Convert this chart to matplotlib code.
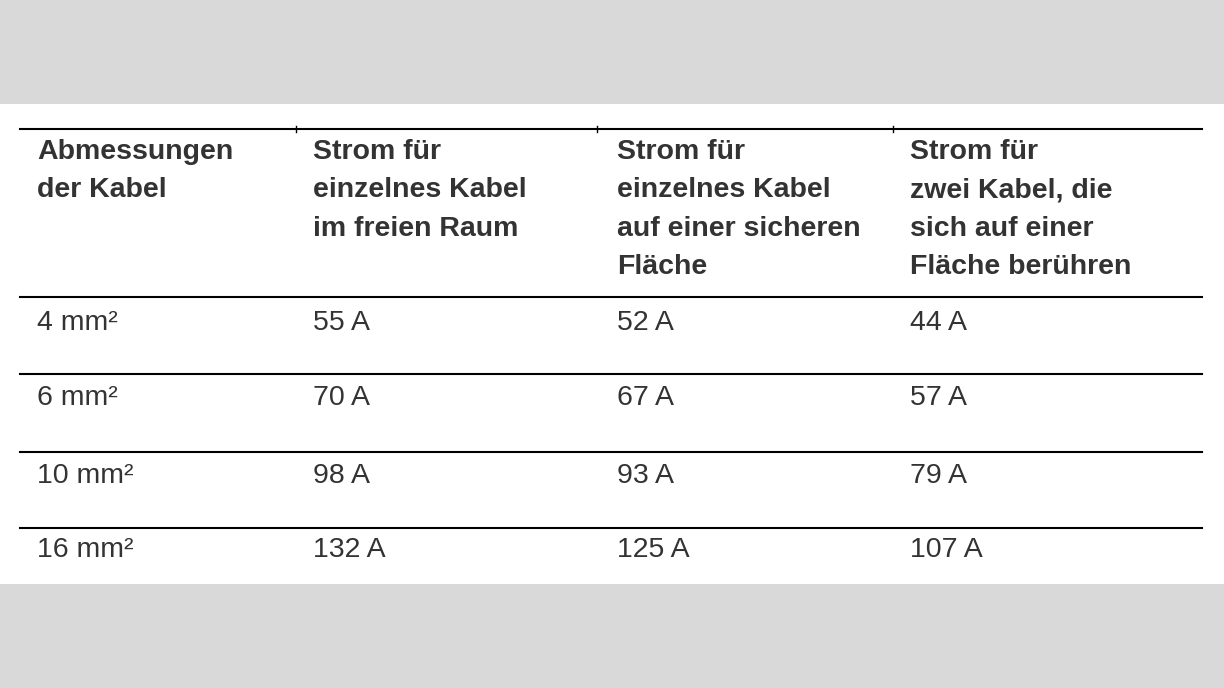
import matplotlib.pyplot as plt

plt.rcParams['font.family'] = ['Liberation Sans', 'Arial', 'DejaVu Sans']

headers = [
    "Abmessungen\nder Kabel",
    "Strom für\neinzelnes Kabel\nim freien Raum",
    "Strom für\neinzelnes Kabel\nauf einer sicheren\nFläche",
    "Strom für\nzwei Kabel, die\nsich auf einer\nFläche berühren",
]
sizes = ["4 mm²", "6 mm²", "10 mm²", "16 mm²"]
free_air = ["55 A", "70 A", "98 A", "132 A"]
on_surface = ["52 A", "67 A", "93 A", "125 A"]
two_touching = ["44 A", "57 A", "79 A", "107 A"]

col_x = [37, 313, 617, 910]
row_y = [323, 398, 476, 550]
rule_y = [297, 374, 452, 528]

fig = plt.figure(figsize=(12.24, 6.88), dpi=100)
fig.patch.set_facecolor('#d9d9d9')
ax = fig.add_axes([0, 0, 1, 1])
ax.set_xlim(0, 1224)
ax.set_ylim(688, 0)
ax.axis('off')
ax.add_patch(plt.Rectangle((0, 104), 1224, 480, facecolor='white', edgecolor='none'))

ax.plot([20, 1202], [129, 129], color='black', lw=1.5)
for cx in [296, 597, 893]:
    ax.plot([cx, cx], [126, 132], color='black', lw=1)
for y in rule_y:
    ax.plot([20, 1202], [y, y], color='black', lw=1.5)

for x, h in zip(col_x, headers):
    ax.text(x, 139, h, fontsize=20.5, fontweight='semibold', color='#333333',
            va='top', ha='left', linespacing=1.62)

for i, row in enumerate(zip(sizes, free_air, on_surface, two_touching)):
    for x, val in zip(col_x, row):
        ax.text(x, row_y[i], val, fontsize=20.5, color='#333333', va='center', ha='left')

fig.savefig('out.png', dpi=100, facecolor=fig.get_facecolor())
